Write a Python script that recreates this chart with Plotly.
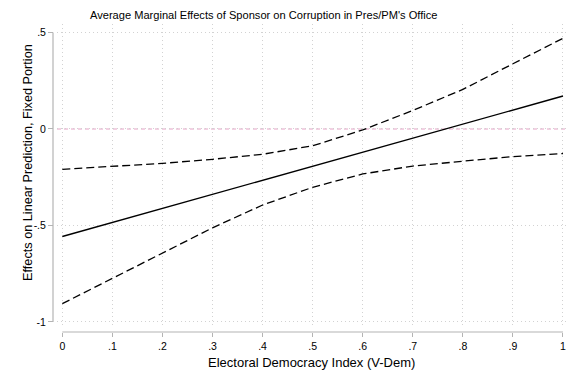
import plotly.graph_objects as go

# Electoral Democracy Index values at which the marginal effect is evaluated
edi = [0.0, 0.1, 0.2, 0.3, 0.4, 0.5, 0.6, 0.7, 0.8, 0.9, 1.0]
# Average marginal effect of sponsor and its 95% confidence bounds
ame = [-0.557, -0.484, -0.411, -0.338, -0.266, -0.193, -0.120, -0.047, 0.025, 0.098, 0.171]
ci_upper = [-0.209, -0.195, -0.178, -0.157, -0.131, -0.087, -0.005, 0.096, 0.205, 0.338, 0.470]
ci_lower = [-0.905, -0.775, -0.645, -0.512, -0.394, -0.302, -0.233, -0.192, -0.167, -0.143, -0.127]

x_ticks = [0, 0.1, 0.2, 0.3, 0.4, 0.5, 0.6, 0.7, 0.8, 0.9, 1.0]
x_labels = ["0", ".1", ".2", ".3", ".4", ".5", ".6", ".7", ".8", ".9", "1"]
y_ticks = [0.5, 0.0, -0.5, -1.0]
y_labels = [".5", "0", "-.5", "-1"]

FONT = "Liberation Sans, Arial, Helvetica, sans-serif"
NARROW = "Liberation Sans Narrow, Arial Narrow, Liberation Sans, sans-serif"
AXIS_GREY = "#b4b4b4"
GRID_GREY = "#d2d2d2"

x_range = [-0.0106, 1.008]
y_range = [-1.026, 0.544]

fig = go.Figure()

fig.add_trace(go.Scatter(x=edi, y=ci_upper, mode="lines",
                         line=dict(color="black", width=1.3, dash="8px,4px"),
                         showlegend=False, hoverinfo="skip"))
fig.add_trace(go.Scatter(x=edi, y=ci_lower, mode="lines",
                         line=dict(color="black", width=1.3, dash="8px,4px"),
                         showlegend=False, hoverinfo="skip"))
fig.add_trace(go.Scatter(x=edi, y=ame, mode="lines",
                         line=dict(color="black", width=1.4),
                         showlegend=False))
# invisible trace that carries the offset tick axes
fig.add_trace(go.Scatter(x=[edi[0]], y=[ame[0]], mode="markers",
                         marker=dict(opacity=0), xaxis="x2", yaxis="y2",
                         showlegend=False, hoverinfo="skip"))

# reference line at zero
fig.add_shape(type="line", xref="x", yref="y", x0=x_range[0], x1=x_range[1], y0=0, y1=0,
              line=dict(color="#e6a2c6", width=1.1, dash="4px,3px"), layer="below")

# axis lines set slightly apart from the plot region
fig.add_shape(type="line", xref="x", yref="paper", x0=0, x1=1, y0=0, y1=0,
              line=dict(color=AXIS_GREY, width=1.2))
fig.add_shape(type="line", xref="paper", yref="y", x0=0, x1=0, y0=-1, y1=0.5,
              line=dict(color=AXIS_GREY, width=1.2))

grid = dict(showgrid=True, gridcolor=GRID_GREY, gridwidth=1, griddash="1px,3px",
            zeroline=False, showline=False, showticklabels=False, ticks="")

fig.update_layout(
    width=567, height=373,
    margin=dict(l=53, r=0, t=24, b=41),
    paper_bgcolor="white", plot_bgcolor="white",
    font=dict(family=FONT, color="black"),
    xaxis=dict(range=x_range, domain=[0.00778, 1], tickvals=x_ticks, **grid),
    yaxis=dict(range=y_range, domain=[0.0162, 1], tickvals=y_ticks, **grid),
    xaxis2=dict(overlaying="x", anchor="free", position=0, range=x_range,
                tickvals=x_ticks, ticktext=x_labels, ticks="outside", ticklen=4,
                tickcolor=AXIS_GREY, tickwidth=1, showgrid=False, zeroline=False,
                showline=False, tickfont=dict(size=10.5, family=FONT, color="black")),
    yaxis2=dict(overlaying="y", anchor="free", position=0, side="left", range=y_range,
                tickvals=y_ticks, ticktext=y_labels, ticks="outside", ticklen=5,
                tickcolor=AXIS_GREY, tickwidth=1, showgrid=False, zeroline=False,
                showline=False, tickfont=dict(size=10.5, family=FONT, color="black")),
    annotations=[
        dict(text="Average Marginal Effects of Sponsor on Corruption in Pres/PM's Office",
             xref="paper", yref="paper", x=0.4105, y=1.029, showarrow=False,
             xanchor="center", yanchor="middle", font=dict(size=11.1, family=FONT)),
        dict(text="Electoral Democracy Index (V-Dem)", xref="paper", yref="paper",
             x=0.502, y=-0.1006, showarrow=False, xanchor="center", yanchor="middle",
             font=dict(size=13, family=FONT)),
        dict(text="Effects on Linear Prediction, Fixed Portion", xref="paper", yref="paper",
             x=-0.0486, y=0.549, showarrow=False, textangle=-90, xanchor="center",
             yanchor="middle", font=dict(size=12.7, family=NARROW)),
    ],
)

fig.write_html("out.html")
